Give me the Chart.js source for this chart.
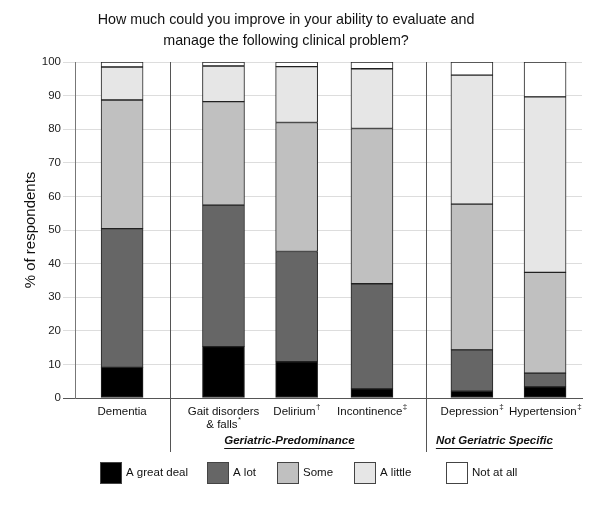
<!DOCTYPE html>
<html lang="en">
<head>
    <meta charset="UTF-8">
    <title>Clinical Problem Survey</title>
    <script src="https://cdn.jsdelivr.net/npm/chart.js@4.4.0/dist/chart.umd.min.js"></script>
    <style>
        body{
            margin: 0;
            background-color: white;
        }
        #myChart{
            display: block;
        }
    </style>
</head>
<body>
    <canvas id="myChart" width="600" height="510"></canvas>
    <script>
        // data (% of respondents)
        var categories = [["Dementia"], ["Gait disorders", "& falls"], ["Delirium"], ["Incontinence"], ["Depression"], ["Hypertension"]];
        var marks = ["", "*", "\u2020", "\u2021", "\u2021", "\u2021"];
        var seriesNames = ["A great deal", "A lot", "Some", "A little", "Not at all"];
        var greatDeal = [9.1, 15.3, 10.8, 2.7, 2.0, 3.3];
        var aLot = [41.3, 42.1, 32.8, 31.3, 12.3, 4.1];
        var some = [38.3, 30.8, 38.4, 46.2, 43.4, 30.0];
        var aLittle = [9.8, 10.6, 16.6, 17.8, 38.4, 52.2];
        var notAtAll = [1.5, 1.2, 1.4, 2.0, 3.9, 10.4];
        var groupNames = ["Geriatric-Predominance", "Not Geriatric Specific"];
        var yTicks = [0, 10, 20, 30, 40, 50, 60, 70, 80, 90, 100];

        // layout: where each bar / group sits along the x scale (0..7)
        var slots = [0.65, 2.05, 3.06, 4.1, 5.48, 6.49];
        var groupSlots = [2.96, 5.79];
        var dividerSlots = [1.31, 4.84];

        var barColors = ["#000000", "#666666", "#c0c0c0", "#e6e6e6", "#ffffff"];
        var font = "'Liberation Sans', Arial, sans-serif";
        var allSeries = [greatDeal, aLot, some, aLittle, notAtAll];

        var datasets = allSeries.map(function(vals, i){
            return {
                label: seriesNames[i],
                data: vals.map(function(v, j){ return {x: slots[j], y: v}; }),
                backgroundColor: barColors[i],
                borderColor: "#222",
                borderWidth: 1,
                borderSkipped: false,
                barThickness: 42
            };
        });

        function drawSup(ctx, text, mark, x, y){
            ctx.font = "11.5px " + font;
            var w1 = ctx.measureText(text).width;
            ctx.font = "8px " + font;
            var w2 = mark ? ctx.measureText(mark).width : 0;
            var left = x - (w1 + w2) / 2;
            ctx.textAlign = "left";
            ctx.textBaseline = "middle";
            ctx.font = "11.5px " + font;
            ctx.fillText(text, left, y);
            if(mark){
                ctx.font = "8px " + font;
                ctx.fillText(mark, left + w1 + 0.5, y - 5);
            }
        }

        var extras = {
            id: "extras",
            afterDraw: function(chart){
                var ctx = chart.ctx;
                var xs = chart.scales.x;
                var area = chart.chartArea;
                ctx.save();
                ctx.fillStyle = "#111";

                // title
                ctx.font = "14.3px " + font;
                ctx.textAlign = "center";
                ctx.textBaseline = "middle";
                ctx.fillText("How much could you improve in your ability to evaluate and", 286, 20);
                ctx.fillText("manage the following clinical problem?", 286, 41);

                // y axis title
                ctx.save();
                ctx.translate(31, (area.top + area.bottom) / 2);
                ctx.rotate(-Math.PI / 2);
                ctx.font = "15px " + font;
                ctx.fillText("% of respondents", 0, 0);
                ctx.restore();

                // category labels
                for(var i = 0; i < categories.length; i++){
                    var px = xs.getPixelForValue(slots[i]);
                    var lines = categories[i];
                    for(var k = 0; k < lines.length; k++){
                        var m = (k == lines.length - 1) ? marks[i] : "";
                        drawSup(ctx, lines[k], m, px, area.bottom + 14 + k * 12.5);
                    }
                }

                // group dividers
                ctx.strokeStyle = "#555";
                ctx.lineWidth = 1;
                dividerSlots.forEach(function(s){
                    var px = Math.round(xs.getPixelForValue(s)) + 0.5;
                    ctx.beginPath();
                    ctx.moveTo(px, area.top);
                    ctx.lineTo(px, area.bottom + 54);
                    ctx.stroke();
                });

                // group names (bold italic, underlined)
                ctx.font = "italic bold 11.5px " + font;
                ctx.textAlign = "center";
                ctx.textBaseline = "middle";
                ctx.strokeStyle = "#111";
                groupNames.forEach(function(g, i){
                    var px = xs.getPixelForValue(groupSlots[i]);
                    var w = ctx.measureText(g).width;
                    ctx.fillText(g, px, area.bottom + 43);
                    ctx.beginPath();
                    ctx.moveTo(px - w / 2, area.bottom + 50.5);
                    ctx.lineTo(px + w / 2, area.bottom + 50.5);
                    ctx.stroke();
                });

                // legend
                var boxX = [100, 207, 277, 354, 446];
                ctx.font = "11.5px " + font;
                ctx.textAlign = "left";
                chart.data.datasets.forEach(function(ds, i){
                    ctx.fillStyle = ds.backgroundColor;
                    ctx.fillRect(boxX[i], 462, 21, 21);
                    ctx.strokeStyle = "#444";
                    ctx.strokeRect(boxX[i] + 0.5, 462.5, 21, 21);
                    ctx.fillStyle = "#111";
                    ctx.fillText(ds.label, boxX[i] + 26, 473);
                });
                ctx.restore();
            }
        };

        new Chart("myChart", {
            type: "bar",
            data: {datasets: datasets},
            plugins: [extras],
            options: {
                responsive: false,
                animation: false,
                layout: {padding: {top: 62, right: 18, left: 0, bottom: 0}},
                plugins: {
                    legend: {display: false},
                    tooltip: {enabled: false}
                },
                scales: {
                    x: {
                        type: "linear",
                        stacked: true,
                        min: 0,
                        max: 7,
                        offset: false,
                        grid: {display: false, offset: false},
                        border: {display: true, color: "#555"},
                        ticks: {display: false},
                        afterFit: function(scale){ scale.height = 112; }
                    },
                    y: {
                        stacked: true,
                        min: 0,
                        max: 100,
                        afterBuildTicks: function(scale){
                            scale.ticks = yTicks.map(function(v){ return {value: v}; });
                        },
                        grid: {
                            color: "#dddddd",
                            tickLength: 12,
                            tickColor: function(c){ return c.tick && c.tick.value === 0 ? "#555" : "#dddddd"; }
                        },
                        border: {display: true, color: "#777"},
                        ticks: {
                            padding: 2,
                            color: "#222",
                            font: {family: font, size: 11.5}
                        },
                        afterFit: function(scale){ scale.width = 75; }
                    }
                }
            }
        });
    </script>
</body>
</html>
